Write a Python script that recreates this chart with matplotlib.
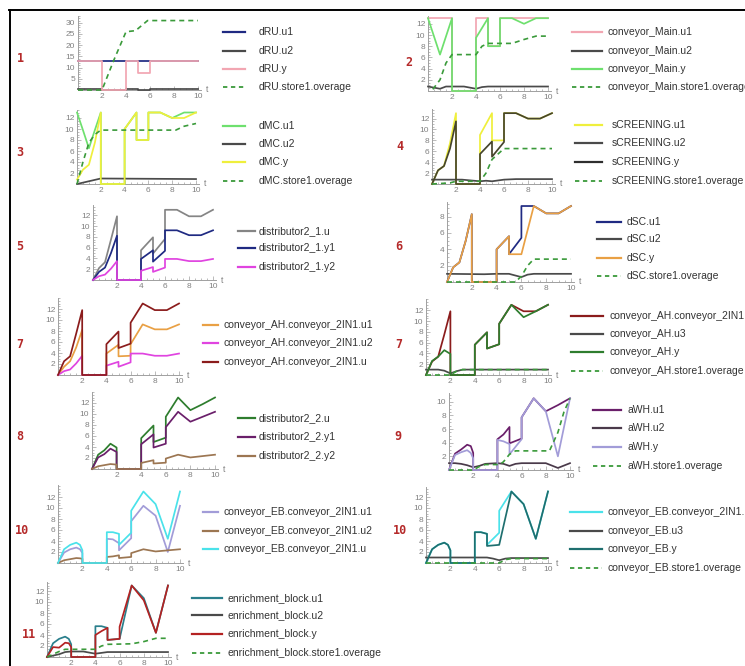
import matplotlib
matplotlib.use('Agg')
import matplotlib.pyplot as plt
from matplotlib.lines import Line2D
from matplotlib.ticker import MultipleLocator

# ---------------- DATA ----------------
T_A = [0, 0.5, 1, 1.5, 2, 2, 4, 4, 5, 5, 6, 6, 7, 8, 9, 10]
T_B = [0, 0.5, 1, 1.5, 1.8, 2, 2, 4, 4, 4.5, 5, 5, 6, 6, 7, 8, 9, 10]

# panel 1: dRU
dru_u1_t = [0, 10]
dru_u1 = [13, 13]
dru_u2_t = [0, 2, 2, 4, 4, 5, 5, 6, 6, 10]
dru_u2 = [0.5, 0.5, 0.1, 0.1, 0.6, 0.6, 0.2, 0.2, 0.5, 0.5]
dru_y_t = [0, 2, 2, 4, 4, 5, 5, 6, 6, 10]
dru_y = [13, 13, 0, 0, 13, 13, 7.5, 7.5, 13, 13]
dru_ov_t = [0, 2, 3, 4, 4.8, 5.8, 10]
dru_ov = [0, 0, 13.5, 26, 26.5, 31, 31]

# panel 2: conveyor_Main
cm_u1_t = [0, 2, 2, 4, 4, 5, 5, 6, 6, 10]
cm_u1 = [13, 13, 0, 0, 13, 13, 8, 8, 13, 13]
cm_u2_t = [0, 0.5, 1, 1.5, 2, 3, 4, 4.5, 5, 10]
cm_u2 = [0.8, 0.6, 0.4, 0.8, 0.8, 0.8, 0.4, 0.7, 0.8, 0.8]
cm_y_t = [0, 1, 2, 2, 4, 4, 5, 5, 6, 6, 7, 8, 9, 10]
cm_y = [13, 6.5, 13, 0, 0, 9.5, 13, 8, 8, 13, 13, 12, 13, 13]
cm_ov_t = [0.4, 1, 1.5, 2, 4, 4.5, 5, 7, 8, 9, 10]
cm_ov = [0.3, 2, 5, 6.5, 6.5, 8, 8.5, 8.5, 9.2, 9.8, 9.8]

# panel 3: dMC
dmc_u1 = [13, 9.8, 6.5, 9.8, 13, 0, 0, 10, 13, 8, 8, 13, 13, 12, 13, 13]
dmc_u2_t = [0, 2, 10]
dmc_u2 = [0, 1, 0.9]
dmc_y = [0.8, 2.6, 3.5, 7.5, 13, 0, 0, 10, 13, 8, 8, 13, 13, 12, 12, 13]
dmc_ov_t = [0, 0.5, 1, 1.5, 2, 8.3, 9, 10]
dmc_ov = [0, 4, 7.5, 9, 9.8, 9.8, 10.5, 11]

# panel 4: sCREENING
scr_u1 = [0, 2.5, 3.3, 7.5, 13, 0, 0, 9, 13, 8, 8, 13, 13, 12, 12, 13]
scr_u2_t = [0, 2, 2.5, 3, 4, 4.5, 5, 6, 7, 10]
scr_u2 = [0.8, 0.8, 0.8, 0.7, 0.5, 0.6, 0.5, 0.8, 0.9, 0.9]
scr_y = [0, 2.5, 3.3, 6.5, 11.5, 0, 0, 5.5, 7.8, 5, 7.7, 13, 13, 12, 12, 13]
scr_ov_t = [0, 1.5, 2, 4, 4.5, 5, 6, 10]
scr_ov = [0, 0.2, 0.5, 0.5, 2, 4.5, 6.5, 6.5]

# panel 5: distributor2_1
d21_u = [0, 2.2, 3.3, 7.5, 11.8, 0, 0, 5.5, 7.9, 4.9, 7.6, 13, 13, 11.8, 11.8, 13]
d21_y1 = [0, 1.5, 2.3, 5, 8.2, 0, 0, 3.9, 5.5, 3.4, 5.4, 9.2, 9.2, 8.3, 8.3, 9.2]
d21_y2 = [0, 0.7, 1, 2.1, 3.5, 0, 0, 1.7, 2.4, 1.5, 2.3, 3.9, 3.9, 3.5, 3.5, 3.9]

# panel 6: dSC
dsc_u1 = [0, 1.8, 2.4, 5, 8.3, 0, 0, 4, 5.6, 3.4, 5.4, 9.3, 9.3, 8.4, 8.4, 9.3]
dsc_u2_t = [0, 3, 4, 5, 5.5, 6, 6.5, 7, 10]
dsc_u2 = [1, 0.95, 1, 1, 0.8, 0.6, 0.9, 1, 1]
dsc_y = [0, 1.8, 2.4, 5, 8.3, 0, 0, 4, 5.6, 3.4, 3.4, 3.4, 9.3, 8.4, 8.4, 9.3]
dsc_ov_t = [0, 5.5, 6, 6.5, 7, 10]
dsc_ov = [0, 0, 0.7, 2, 2.8, 2.8]

# panel 7 (left): conveyor_AH.conveyor_2IN1
ah2_u1 = [0, 1.5, 2.5, 5, 8.2, 0, 0, 3.9, 5.5, 3.4, 3.5, 5.6, 9.2, 8.3, 8.3, 9.2]
ah2_u2 = [0, 0.7, 1, 2.1, 3.5, 0, 0, 1.7, 2.4, 1.5, 2.3, 3.9, 3.9, 3.5, 3.5, 3.9]
ah2_u = [0, 2.5, 3.4, 7.5, 11.8, 0, 0, 5.6, 7.9, 4.9, 5.7, 9.5, 13, 11.8, 11.8, 13]

# panel 7 (right): conveyor_AH
ah_u3_t = [0, 1, 1.5, 2, 2.5, 3, 10]
ah_u3 = [1, 1, 0.8, 0.3, 0.7, 1, 1]
ah_y = [0, 2.6, 3.4, 4.6, 3.9, 0, 0, 5.6, 7.9, 4.9, 5.7, 9.5, 13, 10.7, 11.8, 13]
ah_ov_t = [0, 2, 2.5, 3, 10]
ah_ov = [0, 0, 0.7, 1, 1]

# panel 8: distributor2_2
d22_u = [0, 2.6, 3.4, 4.6, 3.9, 0, 0, 5.6, 7.9, 4.9, 5.7, 9.5, 13, 10.7, 11.8, 13]
d22_y1 = [0, 2.1, 2.7, 3.7, 3.1, 0, 0, 4.5, 6.3, 3.9, 4.6, 7.6, 10.4, 8.6, 9.5, 10.4]
d22_y2 = [0, 0.5, 0.7, 0.9, 0.8, 0, 0, 1.1, 1.6, 1.0, 1.15, 1.9, 2.6, 2.1, 2.35, 2.6]

# panel 9: aWH
awh_u1 = [0, 2.4, 3.0, 3.7, 3.5, 2.5, 0, 0, 4.5, 5.2, 6.3, 3.9, 4.6, 7.7, 10.5, 8.6, 9.5, 10.5]
awh_u2_t = [0, 0.5, 1, 1.5, 2, 2.5, 3, 4, 4.5, 5, 5.5, 6, 8, 9, 10]
awh_u2 = [1, 1, 0.9, 0.7, 0.4, 0.6, 0.9, 1, 0.9, 0.6, 0.9, 1, 1, 0.3, 1]
awh_y = [0, 2.2, 2.6, 2.9, 2.5, 1.7, 0, 0, 4.4, 4.2, 3.8, 2.3, 4.5, 7.7, 10.5, 8.6, 2.0, 10.5]
awh_ov_t = [0, 2, 2.5, 3, 4.2, 4.5, 5, 5.5, 8.3, 9, 9.5, 10]
awh_ov = [0, 0, 0.5, 0.8, 0.8, 1.2, 2.3, 2.8, 2.8, 5.5, 8.5, 10.5]

# panel 10 (left): conveyor_EB.conveyor_2IN1
eb2_u1 = [0, 1.9, 2.5, 2.8, 2.5, 1.8, 0, 0, 4.4, 4.3, 3.6, 2.3, 4.5, 7.6, 10.4, 8.6, 2.0, 10.4]
eb2_u2 = [0, 0.5, 0.7, 0.9, 0.85, 0.75, 0, 0, 1.1, 1.2, 1.4, 0.9, 1.1, 1.8, 2.5, 2.1, 2.3, 2.5]
eb2_u = [0, 2.5, 3.3, 3.7, 3.3, 2.3, 0, 0, 5.6, 5.6, 5.3, 3.3, 5.5, 9.5, 13, 10.7, 4.4, 13]

# panel 10 (right): conveyor_EB
eb_u3_t = [0, 4, 5, 5.5, 6, 6.5, 7, 10]
eb_u3 = [1, 1, 1, 0.8, 0.5, 0.8, 0.9, 0.9]
eb_y = [0, 2.5, 3.3, 3.7, 3.3, 2.3, 0, 0, 5.6, 5.6, 5.3, 3.1, 3.3, 3.3, 13, 10.7, 4.4, 13]
eb_ov_t = [0, 6, 6.5, 7, 10]
eb_ov = [0, 0, 0.6, 0.8, 0.8]

# panel 11: enrichment_block
en_u1 = [0, 2.5, 3.3, 3.7, 3.3, 2.3, 0, 0, 5.6, 5.6, 5.3, 3.1, 3.3, 3.3, 13, 10.7, 4.4, 13]
en_u2_t = [0, 1, 1.5, 2, 3, 4, 5, 10]
en_u2 = [0, 0.5, 0.9, 1, 1, 0.6, 0.9, 0.9]
en_y = [0, 1.8, 1.7, 2.6, 2.5, 1.8, 0, 0, 4.0, 4.7, 5.3, 3.1, 3.3, 5.5, 13, 10.3, 4.4, 13]
en_ov_t = [0, 0.5, 1, 1.5, 4, 4.5, 5, 7, 8, 9, 10]
en_ov = [0, 0.5, 1, 1.4, 1.4, 2, 2.3, 2.4, 2.8, 3.4, 3.4]

# ---------------- STYLE ----------------
NAVY = '#1f2a82'
DGRAY = '#4a4a4a'
PINK = '#f2a6b2'
LGREEN = '#6ee06e'
YELLOW = '#efef3c'
DASHG = '#3a9a3a'
MAGENTA = '#e044e0'
GRAY = '#858585'
ORANGE = '#e9a044'
DRED = '#8b1c1c'
RED = '#b42222'
DGREEN = '#2e7d2e'
PURPLE = '#6a1f6a'
BROWN = '#9c7652'
LAVENDER = '#a29cd8'
CYAN = '#4ae2ea'
TEAL = '#1f6f6f'
TEAL2 = '#2a7f8c'
OLIVE = '#46452c'

W, H = 745, 666
fig = plt.figure(figsize=(W / 100, H / 100), dpi=100)
fig.patch.set_facecolor('white')

FAM = ['Liberation Sans', 'DejaVu Sans']
LEG_FONT = dict(family=FAM, fontsize=7.5, color='#333333')


def make_ax(x0, x10, y0, sy, ymax, ystep, yminor):
    sx = (x10 - x0) / 10.0
    xmax = 10.25
    ax = fig.add_axes([x0 / W, 1 - y0 / H, xmax * sx / W, ymax * sy / H])
    ax.set_xlim(0, xmax)
    ax.set_ylim(0, ymax)
    ax.patch.set_alpha(0)
    for s in ['top', 'right']:
        ax.spines[s].set_visible(False)
    for s in ['left', 'bottom']:
        ax.spines[s].set_color('#a0a0a0')
        ax.spines[s].set_linewidth(0.7)
    ax.set_xticks([2, 4, 6, 8, 10])
    yt = []
    v = ystep
    while v <= ymax - 0.9:
        yt.append(v)
        v += ystep
    ax.set_yticks(yt)
    ax.set_yticklabels([('%g' % t) for t in yt])
    ax.xaxis.set_minor_locator(MultipleLocator(0.5))
    ax.yaxis.set_minor_locator(MultipleLocator(yminor))
    ax.tick_params(which='both', direction='in', color='#a0a0a0', width=0.5,
                   labelsize=6, labelcolor='#808080', pad=2)
    ax.tick_params(which='major', length=3)
    ax.tick_params(which='minor', length=1.5)
    for lab in ax.get_xticklabels() + ax.get_yticklabels():
        lab.set_family(FAM)
    ax.text(10.25 + 6 / sx, 0, 't', fontsize=6.2, color='#808080', va='center', ha='center',
            clip_on=False, family=FAM)
    return ax


def plot_series(ax, series):
    for t, v, c, dashed in series:
        if dashed:
            ax.plot(t, v, color=c, lw=1.2, ls=(0, (3, 2.4)), clip_on=False, zorder=5)
        else:
            ax.plot(t, v, color=c, lw=1.25, clip_on=False, zorder=3)


def legend(lx0, lx1, tx, rows, entries):
    for r, (lab, c, dashed) in zip(rows, entries):
        yy = 1 - r / H
        if dashed:
            ln = Line2D([lx0 / W, lx1 / W], [yy, yy], transform=fig.transFigure, color=c,
                        lw=1.3, ls=(0, (2.4, 2.0)))
        else:
            ln = Line2D([lx0 / W, lx1 / W], [yy, yy], transform=fig.transFigure, color=c, lw=1.6)
        fig.add_artist(ln)
        fig.text(tx / W, yy, lab, va='center', ha='left', **LEG_FONT)


def number(txt, x, y):
    fig.text(x / W, 1 - y / H, txt, color='#b52a2a', fontweight='bold', fontsize=8.5,
             family=['DejaVu Sans Mono'], ha='center', va='center')


# ---- panel 1
ax = make_ax(78, 198, 90, 2.24, 33, 5, 1)
plot_series(ax, [(dru_u1_t, dru_u1, NAVY, False), (dru_u2_t, dru_u2, DGRAY, False),
                 (dru_y_t, dru_y, PINK, False), (dru_ov_t, dru_ov, DASHG, True)])
legend(223, 245, 259, [32, 51, 69, 87],
       [('dRU.u1', NAVY, False), ('dRU.u2', DGRAY, False), ('dRU.y', PINK, False),
        ('dRU.store1.overage', DASHG, True)])
number('1', 20, 59)

# ---- panel 2
ax = make_ax(428, 548, 91, 5.6, 13.4, 2, 0.5)
plot_series(ax, [(cm_u1_t, cm_u1, PINK, False), (cm_u2_t, cm_u2, DGRAY, False),
                 (cm_y_t, cm_y, LGREEN, False), (cm_ov_t, cm_ov, DASHG, True)])
legend(572, 602, 608, [32, 51, 69, 87],
       [('conveyor_Main.u1', PINK, False), ('conveyor_Main.u2', DGRAY, False),
        ('conveyor_Main.y', LGREEN, False), ('conveyor_Main.store1.overage', DASHG, True)])
number('2', 409, 62)

# ---- panel 3
ax = make_ax(77, 196, 184, 5.5, 13.5, 2, 0.5)
plot_series(ax, [(T_A, dmc_u1, LGREEN, False), (dmc_u2_t, dmc_u2, DGRAY, False),
                 (T_A, dmc_y, YELLOW, False), (dmc_ov_t, dmc_ov, DASHG, True)])
legend(223, 245, 259, [126, 144, 162, 181],
       [('dMC.u1', LGREEN, False), ('dMC.u2', DGRAY, False), ('dMC.y', YELLOW, False),
        ('dMC.store1.overage', DASHG, True)])
number('3', 20, 153)

# ---- panel 4
ax = make_ax(432, 552, 184, 5.45, 13.8, 2, 0.5)
plot_series(ax, [(T_A, scr_u1, YELLOW, False), (scr_u2_t, scr_u2, DGRAY, False),
                 (T_A, scr_y, OLIVE, False), (scr_ov_t, scr_ov, DASHG, True)])
legend(575, 602, 612, [125, 143, 162, 181],
       [('sCREENING.u1', YELLOW, False), ('sCREENING.u2', DGRAY, False),
        ('sCREENING.y', '#2e2e2e', False), ('sCREENING.store1.overage', DASHG, True)])
number('4', 400, 147)

# ---- panel 5
ax = make_ax(93, 213, 280, 5.4, 13.9, 2, 0.5)
plot_series(ax, [(T_A, d21_u, GRAY, False), (T_A, d21_y1, NAVY, False),
                 (T_A, d21_y2, MAGENTA, False)])
legend(238, 255, 259, [231, 248, 267],
       [('distributor2_1.u', GRAY, False), ('distributor2_1.y1', NAVY, False),
        ('distributor2_1.y2', MAGENTA, False)])
number('5', 20, 247)

# ---- panel 6
ax = make_ax(447, 571, 282, 8.17, 9.8, 2, 0.5)
plot_series(ax, [(T_A, dsc_u1, NAVY, False), (dsc_u2_t, dsc_u2, DGRAY, False),
                 (T_A, dsc_y, ORANGE, False), (dsc_ov_t, dsc_ov, DASHG, True)])
legend(597, 621, 627, [222, 239, 258, 276],
       [('dSC.u1', NAVY, False), ('dSC.u2', DGRAY, False), ('dSC.y', ORANGE, False),
        ('dSC.store1.overage', DASHG, True)])
number('6', 399, 247)

# ---- panel 7 left
ax = make_ax(58, 179, 375, 5.5, 14, 2, 0.5)
plot_series(ax, [(T_A, ah2_u1, ORANGE, False), (T_A, ah2_u2, MAGENTA, False),
                 (T_A, ah2_u, DRED, False)])
legend(203, 218, 224, [325, 343, 362],
       [('conveyor_AH.conveyor_2IN1.u1', ORANGE, False),
        ('conveyor_AH.conveyor_2IN1.u2', MAGENTA, False),
        ('conveyor_AH.conveyor_2IN1.u', DRED, False)])
number('7', 20, 344)

# ---- panel 7 right
ax = make_ax(426, 548, 375, 5.4, 14, 2, 0.5)
plot_series(ax, [(T_A, ah2_u, DRED, False), (ah_u3_t, ah_u3, DGRAY, False),
                 (T_A, ah_y, DGREEN, False), (ah_ov_t, ah_ov, DASHG, True)])
legend(571, 603, 609, [316, 334, 352, 371],
       [('conveyor_AH.conveyor_2IN1.u', DRED, False), ('conveyor_AH.u3', DGRAY, False),
        ('conveyor_AH.y', DGREEN, False), ('conveyor_AH.store1.overage', DASHG, True)])
number('7', 399, 344)

# ---- panel 8
ax = make_ax(92, 215, 469, 5.5, 14, 2, 0.5)
plot_series(ax, [(T_A, d22_u, DGREEN, False), (T_A, d22_y1, PURPLE, False),
                 (T_A, d22_y2, BROWN, False)])
legend(238, 255, 259, [418, 437, 456],
       [('distributor2_2.u', DGREEN, False), ('distributor2_2.y1', PURPLE, False),
        ('distributor2_2.y2', BROWN, False)])
number('8', 20, 437)

# ---- panel 9
ax = make_ax(449, 570, 470, 6.83, 11.3, 2, 0.5)
plot_series(ax, [(T_B, awh_u1, PURPLE, False), (awh_u2_t, awh_u2, '#4a3a4a', False),
                 (T_B, awh_y, LAVENDER, False), (awh_ov_t, awh_ov, DASHG, True)])
legend(593, 621, 628, [410, 428, 447, 466],
       [('aWH.u1', PURPLE, False), ('aWH.u2', '#4a3a4a', False), ('aWH.y', LAVENDER, False),
        ('aWH.store1.overage', DASHG, True)])
number('9', 398, 437)

# ---- panel 10 left
ax = make_ax(58, 180, 563, 5.5, 14.2, 2, 0.5)
plot_series(ax, [(T_B, eb2_u1, LAVENDER, False), (T_B, eb2_u2, BROWN, False),
                 (T_B, eb2_u, CYAN, False)])
legend(203, 218, 224, [512, 531, 549],
       [('conveyor_EB.conveyor_2IN1.u1', LAVENDER, False),
        ('conveyor_EB.conveyor_2IN1.u2', BROWN, False),
        ('conveyor_EB.conveyor_2IN1.u', CYAN, False)])
number('10', 22, 531)

# ---- panel 10 right
ax = make_ax(426, 548, 563, 5.5, 13.8, 2, 0.5)
plot_series(ax, [(T_B, eb2_u, CYAN, False), (eb_u3_t, eb_u3, DGRAY, False),
                 (T_B, eb_y, TEAL, False), (eb_ov_t, eb_ov, DASHG, True)])
legend(570, 602, 608, [512, 531, 549, 568],
       [('conveyor_EB.conveyor_2IN1.u', CYAN, False), ('conveyor_EB.u3', DGRAY, False),
        ('conveyor_EB.y', TEAL, False), ('conveyor_EB.store1.overage', DASHG, True)])
number('10', 400, 531)

# ---- panel 11
ax = make_ax(47, 168, 657, 5.5, 13.6, 2, 0.5)
plot_series(ax, [(T_B, en_u1, TEAL2, False), (en_u2_t, en_u2, DGRAY, False),
                 (T_B, en_y, RED, False), (en_ov_t, en_ov, DASHG, True)])
legend(192, 222, 228, [598, 615, 634, 653],
       [('enrichment_block.u1', TEAL2, False), ('enrichment_block.u2', DGRAY, False),
        ('enrichment_block.y', RED, False), ('enrichment_block.store1.overage', DASHG, True)])
number('11', 29, 634)

# border frame
fig.add_artist(Line2D([9 / W, 1.0], [1 - 10 / H, 1 - 10 / H], transform=fig.transFigure,
                      color='black', lw=1.4))
fig.add_artist(Line2D([10 / W, 10 / W], [0, 1 - 10 / H], transform=fig.transFigure,
                      color='black', lw=1.4))

fig.savefig('out.png', dpi=100, facecolor='white')
